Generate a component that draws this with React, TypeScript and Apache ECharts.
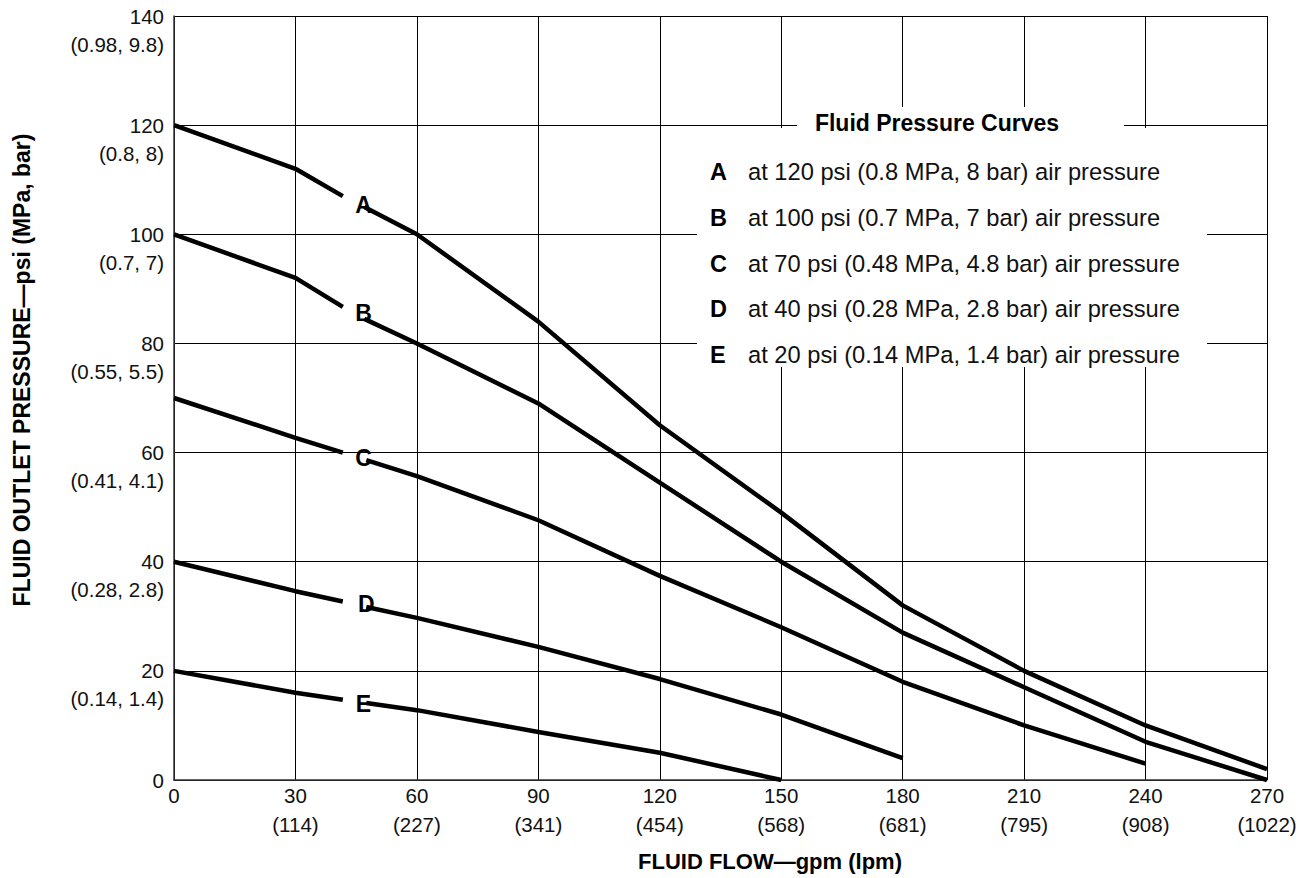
import React, { useEffect, useRef } from "react";
import * as echarts from "echarts";

const FONT = '"Liberation Sans", Arial, Helvetica, sans-serif';

// Axis ticks (gpm / lpm, psi / MPa, bar)
const flowGpm = [0, 30, 60, 90, 120, 150, 180, 210, 240, 270];
const flowLpm = ["", "(114)", "(227)", "(341)", "(454)", "(568)", "(681)", "(795)", "(908)", "(1022)"];
const pressurePsi = [0, 20, 40, 60, 80, 100, 120, 140];
const pressureMpaBar = ["", "(0.14, 1.4)", "(0.28, 2.8)", "(0.41, 4.1)", "(0.55, 5.5)", "(0.7, 7)", "(0.8, 8)", "(0.98, 9.8)"];

// Curves [gpm, psi]; null = break in the line where the letter sits
const curveA = [[0, 120], [30, 112], [41.7, 107], null, [47, 105], [60, 100], [90, 84], [120, 65], [150, 49], [180, 32], [210, 20], [240, 10], [270, 2]];
const curveB = [[0, 100], [30, 92], [41.7, 86.7], null, [47, 84.5], [60, 80], [90, 69], [120, 54.5], [150, 40], [180, 27], [210, 17], [240, 7], [270, 0]];
const curveC = [[0, 70], [30, 62.7], [41.7, 60], null, [47.5, 58.6], [60, 55.7], [90, 47.6], [120, 37.4], [150, 28], [180, 18], [210, 10], [240, 3]];
const curveD = [[0, 40], [30, 34.6], [41.7, 32.7], null, [47.5, 31.7], [60, 29.7], [90, 24.4], [120, 18.5], [150, 12], [180, 4]];
const curveE = [[0, 20], [30, 16], [41.7, 14.7], null, [47.5, 14.1], [60, 12.8], [90, 8.8], [120, 5], [150, 0]];

const curveNames = ["A", "B", "C", "D", "E"];
const curves = [curveA, curveB, curveC, curveD, curveE];
const curveLetterPos = [[46.8, 105.4], [46.8, 85.6], [46.8, 59], [47.5, 32.3], [46.8, 14]];

const legendTitle = "Fluid Pressure Curves";
const legendTexts = [
  "at 120 psi (0.8 MPa, 8 bar) air pressure",
  "at 100 psi (0.7 MPa, 7 bar) air pressure",
  "at 70 psi (0.48 MPa, 4.8 bar) air pressure",
  "at 40 psi (0.28 MPa, 2.8 bar) air pressure",
  "at 20 psi (0.14 MPa, 1.4 bar) air pressure",
];

const xTitle = "FLUID FLOW\u2014gpm (lpm)";
const yTitle = "FLUID OUTLET PRESSURE\u2014psi (MPa, bar)";

function splitSegments(pts: (number[] | null)[]) {
  const segs: number[][][] = [];
  let cur: number[][] = [];
  pts.forEach((p) => {
    if (p === null) {
      if (cur.length) segs.push(cur);
      cur = [];
    } else cur.push(p);
  });
  if (cur.length) segs.push(cur);
  return segs;
}

export default function App() {
  const ref = useRef<HTMLDivElement>(null);
  useEffect(() => {
    if (!ref.current) return;
    const chart = echarts.init(ref.current, undefined, { renderer: "svg" });

    const lineSeries: any[] = [];
    curves.forEach((c, i) => {
      splitSegments(c).forEach((seg, k) => {
        lineSeries.push({
          name: curveNames[i] + k,
          type: "line",
          data: seg,
          symbol: "none",
          lineStyle: { color: "#000", width: 4.5, cap: "butt", join: "round" },
          z: 5,
        });
      });
    });

    const labelSeries = {
      type: "scatter",
      data: curveLetterPos.map((p, i) => ({ value: p, name: curveNames[i] })),
      symbolSize: 1,
      itemStyle: { color: "rgba(0,0,0,0)" },
      label: {
        show: true,
        position: "inside",
        formatter: (p: any) => p.name,
        fontFamily: FONT,
        fontWeight: "bold",
        fontSize: 23,
        color: "#000",
        textBorderWidth: 0,
        textBorderColor: "transparent",
        opacity: 1,
      },
      z: 6,
    };

    const rowY0 = 172;
    const rowStep = 45.75;
    const graphics: any[] = [
      { type: "rect", shape: { x: 697, y: 128, width: 510, height: 239 }, style: { fill: "#fff" }, z: 100 },
      { type: "rect", shape: { x: 797, y: 107, width: 327, height: 22 }, style: { fill: "#fff" }, z: 100 },
      {
        type: "text", x: 937, y: 123, z: 101,
        style: { text: legendTitle, fontFamily: FONT, fontWeight: "bold", fontSize: 23, fill: "#000", align: "center", verticalAlign: "middle" },
      },
      {
        type: "text", x: 22, y: 370, rotation: Math.PI / 2, z: 101,
        style: { text: yTitle, fontFamily: FONT, fontWeight: "bold", fontSize: 23, fill: "#000", align: "center", verticalAlign: "middle" },
      },
      {
        type: "text", x: 770, y: 861, z: 101,
        style: { text: xTitle, fontFamily: FONT, fontWeight: "bold", fontSize: 22, fill: "#000", align: "center", verticalAlign: "middle" },
      },
    ];
    legendTexts.forEach((t, i) => {
      graphics.push({
        type: "text", x: 710, y: rowY0 + i * rowStep, z: 101,
        style: { text: curveNames[i], fontFamily: FONT, fontWeight: "bold", fontSize: 23.5, fill: "#000", align: "left", verticalAlign: "middle" },
      });
      graphics.push({
        type: "text", x: 748, y: rowY0 + i * rowStep, z: 101,
        style: { text: t, fontFamily: FONT, fontSize: 23.7, fill: "#111", align: "left", verticalAlign: "middle" },
      });
    });

    chart.setOption({
      animation: false,
      backgroundColor: "#fff",
      grid: { left: 174, right: 43, top: 16, bottom: 98, containLabel: false, outerBoundsMode: "none" },
      xAxis: {
        type: "value",
        min: 0,
        max: 270,
        interval: 30,
        axisLine: { show: true, lineStyle: { color: "#333", width: 1.5 } },
        axisTick: { show: false },
        splitLine: { show: true, lineStyle: { color: "#000", width: 1 } },
        axisLabel: {
          margin: 1,
          fontFamily: FONT,
          fontSize: 20.5,
          color: "#111",
          lineHeight: 29,
          formatter: (v: number) => {
            const i = flowGpm.indexOf(v);
            const sub = i >= 0 ? flowLpm[i] : "";
            return sub ? `${v}\n${sub}` : `${v}`;
          },
        },
      },
      yAxis: {
        type: "value",
        min: 0,
        max: 140,
        interval: 20,
        axisLine: { show: true, lineStyle: { color: "#333", width: 1.5 } },
        axisTick: { show: false },
        splitLine: { show: true, lineStyle: { color: "#000", width: 1 } },
        axisLabel: {
          margin: 10,
          fontFamily: FONT,
          fontSize: 20.5,
          color: "#111",
          lineHeight: 28,
          formatter: (v: number) => {
            const i = pressurePsi.indexOf(v);
            const sub = i >= 0 ? pressureMpaBar[i] : "";
            return ` \n${v}\n${sub || " "}`;
          },
        },
      },
      series: [...lineSeries, labelSeries],
      graphic: graphics,
    });

    return () => chart.dispose();
  }, []);

  return (
    <div
      ref={ref}
      style={{ position: "fixed", left: 0, top: 0, width: 1310, height: 878, background: "#fff" }}
    />
  );
}
